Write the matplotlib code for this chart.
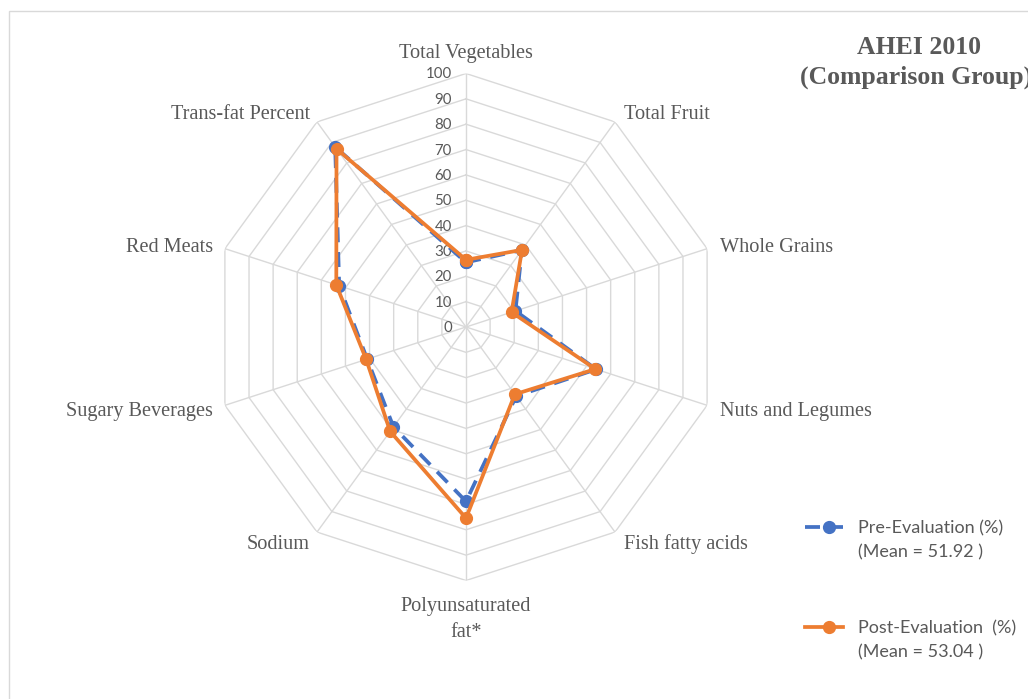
import numpy as np
import matplotlib
matplotlib.use("Agg")
import matplotlib.pyplot as plt
from matplotlib.lines import Line2D
from matplotlib.patches import Rectangle

categories = ["Total Vegetables", "Total Fruit", "Whole Grains", "Nuts and Legumes",
              "Fish fatty acids", "Polyunsaturated\nfat*", "Sodium", "Sugary Beverages",
              "Red Meats", "Trans-fat Percent"]
pre_values = [25.5, 37.5, 20.5, 54.0, 33.7, 68.8, 48.7, 41.0, 52.6, 87.8]
post_values = [26.5, 37.6, 18.9, 53.7, 32.8, 75.4, 50.9, 41.4, 53.8, 86.9]
radial_ticks = [0, 10, 20, 30, 40, 50, 60, 70, 80, 90, 100]
pre_label = ["Pre-Evaluation (%)", "(Mean = 51.92 )"]
post_label = ["Post-Evaluation  (%)", "(Mean = 53.04 )"]

W, H = 1028, 699
fig = plt.figure(figsize=(W / 100, H / 100), dpi=100)
fig.patch.set_facecolor("white")

# chart area border (cut on right/bottom)
fig.add_artist(Rectangle((9 / W, -0.05), 1.1, (H - 11) / H + 0.05, transform=fig.transFigure,
                         fill=False, edgecolor="#d9d9d9", linewidth=1.0))

cx, cy, R = 466, 327, 253.5
ax = fig.add_axes([(cx - R) / W, (H - cy - R) / H, 2 * R / W, 2 * R / H], projection="polar")
ax.set_theta_zero_location("N")
ax.set_theta_direction(-1)
ax.set_ylim(0, 100)
ax.grid(False)
ax.spines["polar"].set_visible(False)
ax.set_xticks([])
ax.set_yticks([])
ax.patch.set_alpha(0)

n = len(categories)
angles = np.arange(n) * 2 * np.pi / n
closed = np.append(angles, angles[0])

grid_col = "#d9d9d9"
for t in radial_ticks[1:]:
    ax.plot(closed, [t] * (n + 1), color=grid_col, lw=1.0, zorder=1)
for a in angles:
    ax.plot([a, a], [0, 100], color=grid_col, lw=1.0, zorder=1)

for t in radial_ticks:
    ax.annotate(str(t), xy=(0, t), xytext=(-14, -1), textcoords="offset pixels",
                ha="right", va="center", fontsize=10.8, color="#595959", family="Lato")

# category labels
offsets = [(0, 20, "center", "center"),
           (9, 7, "left", "center"),
           (13, 1, "left", "center"),
           (13, -6, "left", "center"),
           (9, -12, "left", "center"),
           (0, -17, "center", "top"),
           (-7, -12, "right", "center"),
           (-12, -6, "right", "center"),
           (-12, 1, "right", "center"),
           (-7, 7, "right", "center")]
for a, lab, (dx, dy, ha, va) in zip(angles, categories, offsets):
    ax.annotate(lab, xy=(a, 100), xytext=(dx, dy), textcoords="offset pixels",
                ha=ha, va=va, fontsize=14.6, color="#595959", family="Liberation Serif",
                multialignment="center", linespacing=1.45, annotation_clip=False)

blue = "#4472C4"
orange = "#ED7D31"
pre_closed = pre_values + pre_values[:1]
post_closed = post_values + post_values[:1]
ax.plot(closed, pre_closed, color=blue, lw=2.7, linestyle=(0, (4, 2.6)),
        marker="o", markersize=8.5, zorder=3, clip_on=False)
ax.plot(closed, post_closed, color=orange, lw=2.7, marker="o", markersize=8.5,
        zorder=4, clip_on=False)

# legend (manual)
for y, col, ls, lab in [(527, blue, (0, (4, 2.6)), pre_label), (627, orange, "-", post_label)]:
    yf = (H - y) / H
    fig.add_artist(Line2D([805 / W, 843 / W], [yf, yf], transform=fig.transFigure,
                          color=col, lw=2.7, linestyle=ls))
    fig.add_artist(Line2D([829 / W], [yf], transform=fig.transFigure, color=col,
                          marker="o", markersize=8.5, linestyle="none"))
    for k, line in enumerate(lab):
        fig.text(858 / W, (H - y - 1 - 24 * k) / H, line, ha="left", va="center", fontsize=13,
                 color="#595959", family="Lato")

fig.text(919 / W, (H - 47) / H, "AHEI 2010", ha="center", va="center", fontsize=18.5,
         fontweight="bold", color="#595959", family="Liberation Serif")
fig.text(916 / W, (H - 77) / H, "(Comparison Group)", ha="center", va="center", fontsize=18.5,
         fontweight="bold", color="#595959", family="Liberation Serif")

fig.savefig("out.png", dpi=100, facecolor="white")
